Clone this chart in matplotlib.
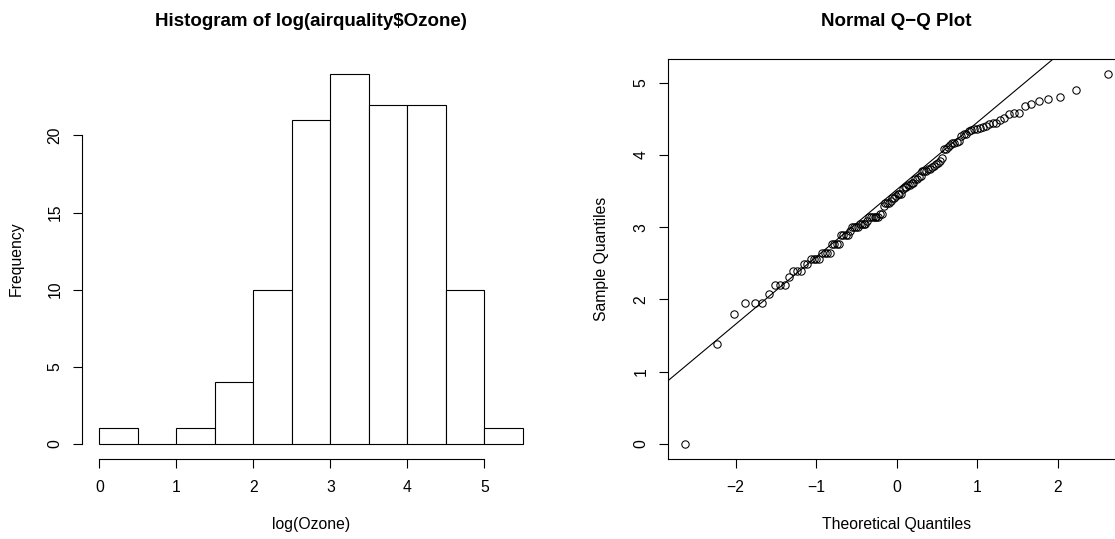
import numpy as np
import matplotlib
matplotlib.use("Agg")
import matplotlib.pyplot as plt
from statistics import NormalDist

# ---- data ----
# airquality$Ozone (non-missing values, in dataset order)
ozone = [41, 36, 12, 18, 28, 23, 19, 8, 7, 16, 11, 14, 18, 14, 34, 6, 30, 11, 1, 11,
         4, 32, 23, 45, 115, 37, 29, 71, 39, 23, 21, 37, 20, 12, 13, 135, 49, 32, 64,
         40, 77, 97, 97, 85, 10, 27, 7, 48, 35, 61, 79, 63, 16, 80, 108, 20, 52, 82,
         50, 64, 59, 39, 9, 16, 78, 35, 66, 122, 89, 110, 44, 28, 65, 22, 59, 23, 31,
         44, 21, 9, 45, 168, 73, 76, 118, 84, 85, 96, 78, 73, 91, 47, 32, 20, 23, 21,
         24, 44, 21, 28, 9, 13, 46, 18, 13, 24, 16, 13, 23, 36, 7, 14, 30, 14, 18, 20]

# histogram of log(Ozone)
bin_edges = [0.0, 0.5, 1.0, 1.5, 2.0, 2.5, 3.0, 3.5, 4.0, 4.5, 5.0, 5.5]
hist_counts = [1, 0, 1, 4, 10, 21, 24, 22, 22, 10, 1]

hist_xticks = [0, 1, 2, 3, 4, 5]
hist_yticks = [0, 5, 10, 15, 20]
qq_xticks = [-2, -1, 0, 1, 2]
qq_yticks = [0, 1, 2, 3, 4, 5]

# ---- derived ----
logoz = np.sort(np.log(np.array(ozone, dtype=float)))
n = len(logoz)
nd = NormalDist()
theo = np.array([nd.inv_cdf((i - 0.5) / n) for i in range(1, n + 1)])
yq = np.quantile(logoz, [0.25, 0.75])
xq = [nd.inv_cdf(0.25), nd.inv_cdf(0.75)]

# ---- style ----
plt.rcParams['font.family'] = ['Liberation Sans', 'DejaVu Sans']
BASE = 11.3
TITLE = 13.5
LW = 0.8

W, H = 1115, 539
fig = plt.figure(figsize=(W / 100, H / 100), dpi=100)

def frac(left_px, right_px, top_px, bottom_px):
    return [left_px / W, (H - bottom_px) / H, (right_px - left_px) / W, (bottom_px - top_px) / H]

ax1 = fig.add_axes(frac(82.4, 539.7, 59.0, 458.5))
ax2 = fig.add_axes(frac(668.3, 1125.1, 59.0, 458.5))

# ---- histogram ----
widths = np.diff(bin_edges)
ax1.bar(bin_edges[:-1], hist_counts, width=widths, align='edge',
        facecolor='white', edgecolor='black', linewidth=LW)
xr = bin_edges[-1] - bin_edges[0]
ax1.set_xlim(bin_edges[0] - 0.04 * xr, bin_edges[-1] + 0.04 * xr)
ymax = max(hist_counts)
ax1.set_ylim(-0.04 * ymax, ymax * 1.04)
for s in ['top', 'right']:
    ax1.spines[s].set_visible(False)
ax1.spines['left'].set_bounds(hist_yticks[0], hist_yticks[-1])
ax1.spines['bottom'].set_bounds(hist_xticks[0], hist_xticks[-1])
ax1.set_xticks(hist_xticks)
ax1.set_yticks(hist_yticks)
ax1.text(0.5, (458.5 - 21.7) / 399.5, 'Histogram of log(airquality$Ozone)',
         transform=ax1.transAxes, ha='center', va='center',
         fontsize=TITLE, fontweight='bold')
ax1.text(0.5, (458.5 - 525) / 399.5, 'log(Ozone)', transform=ax1.transAxes,
         ha='center', va='center', fontsize=BASE)
ax1.text((16 - 82.4) / 457.3, 0.5, 'Frequency', transform=ax1.transAxes,
         ha='center', va='center', rotation=90, fontsize=BASE)

# ---- QQ plot ----
ax2.plot(theo, logoz, 'o', mfc='none', mec='black', ms=5.3, mew=0.75)
ax2.axline((xq[0], yq[0]), (xq[1], yq[1]), color='black', linewidth=LW)
xr2 = theo.max() - theo.min()
ax2.set_xlim(theo.min() - 0.04 * xr2, theo.max() + 0.04 * xr2)
yr2 = logoz.max() - logoz.min()
ax2.set_ylim(logoz.min() - 0.04 * yr2, logoz.max() + 0.04 * yr2)
ax2.set_xticks(qq_xticks)
ax2.set_yticks(qq_yticks)
ax2.text(0.5, (458.5 - 21.7) / 399.5, 'Normal Q\u2212Q Plot',
         transform=ax2.transAxes, ha='center', va='center',
         fontsize=TITLE, fontweight='bold')
ax2.text(0.5, (458.5 - 525) / 399.5, 'Theoretical Quantiles', transform=ax2.transAxes,
         ha='center', va='center', fontsize=BASE)
ax2.text((601.7 - 668.3) / 457.3, 0.5, 'Sample Quantiles', transform=ax2.transAxes,
         ha='center', va='center', rotation=90, fontsize=BASE)

for ax in (ax1, ax2):
    for s in ax.spines.values():
        s.set_linewidth(LW)
    ax.tick_params(direction='out', length=6.7, width=LW, labelsize=BASE, colors='black')
    ax.tick_params(axis='x', pad=9.0)
    ax.tick_params(axis='y', pad=7.5)
    for lab in ax.get_yticklabels():
        lab.set_rotation(90)
        lab.set_va('center')

fig.savefig('out.png', dpi=100)
